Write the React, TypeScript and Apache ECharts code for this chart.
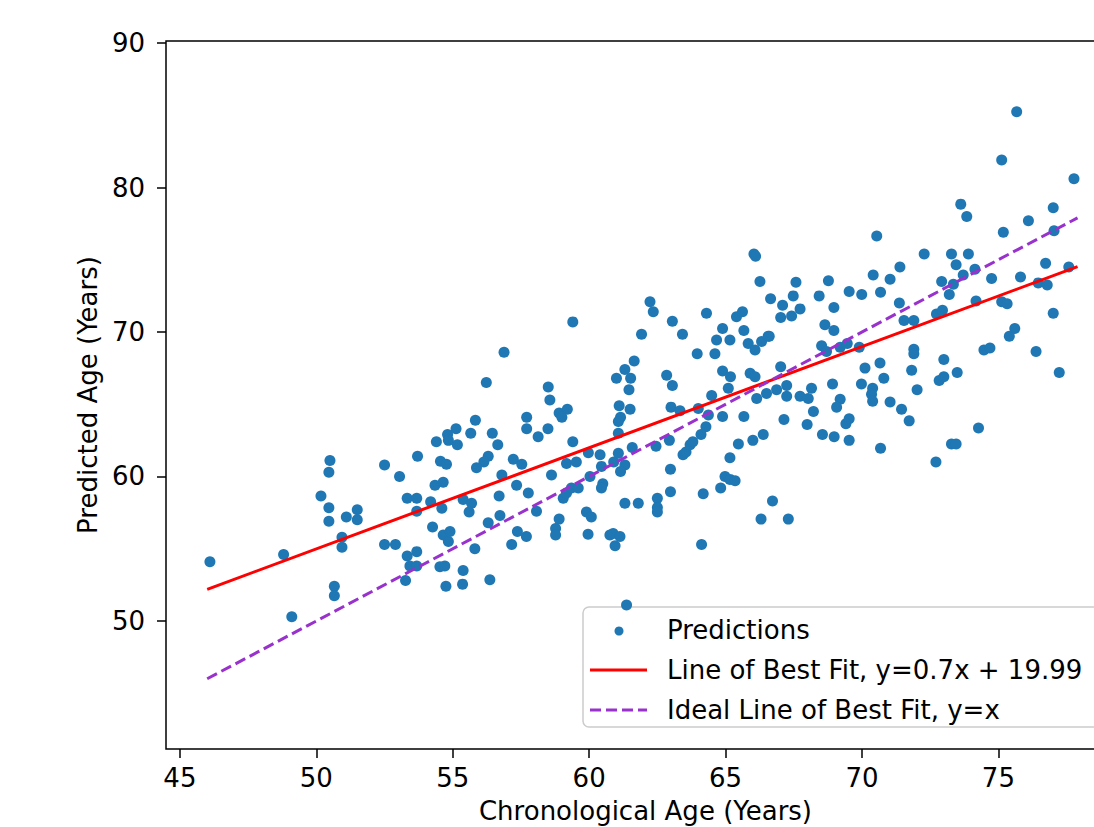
import React, { useEffect, useRef } from "react";
import * as echarts from "echarts";

// Chronological age (x) vs predicted age (y) for each subject
const predictions: [number, number][] = [
  [46.1, 54.1], [48.8, 54.6], [49.1, 50.3], [50.5, 61.1], [50.46, 60.3], [50.17, 58.65], [50.46, 57.84],
  [50.46, 56.9], [51.1, 57.2], [51.5, 57.7], [51.5, 57.0], [50.94, 55.8], [50.94, 55.1], [50.66, 52.4],
  [50.66, 51.75], [52.5, 60.8], [53.05, 60.0], [53.33, 58.5], [53.68, 58.5], [53.68, 57.6], [52.5, 55.3],
  [52.9, 55.3], [53.33, 54.5], [53.68, 54.8], [53.43, 53.8], [53.68, 53.8], [53.27, 52.8], [53.71, 61.4],
  [59.4, 70.7], [56.88, 68.6], [56.23, 66.5], [58.5, 66.2], [58.56, 65.3], [58.9, 64.4], [59.2, 64.65],
  [59.0, 64.1], [57.71, 64.1], [57.71, 63.3], [58.49, 63.3], [58.13, 62.75], [59.4, 62.4], [55.83, 63.9],
  [55.12, 63.3], [55.66, 63.0], [56.45, 63.0], [56.65, 62.2], [54.81, 62.9], [54.84, 62.5], [55.17, 62.2],
  [54.4, 62.4], [54.55, 61.05], [54.77, 60.85], [56.3, 61.4], [56.14, 61.0], [55.87, 60.6], [57.22, 61.2],
  [57.53, 60.85], [60.4, 61.5], [59.97, 61.65], [59.17, 60.9], [59.53, 61.0],
  [54.35, 59.4], [54.65, 59.6], [54.19, 58.25], [54.6, 57.8], [55.38, 58.4], [55.69, 58.15], [55.6, 57.55],
  [56.7, 58.65], [57.34, 59.4], [56.8, 60.1], [57.77, 58.85], [58.07, 57.6], [58.62, 60.1], [56.73, 57.3],
  [56.3, 56.8], [54.26, 56.5], [54.65, 55.95], [54.9, 56.2], [54.84, 55.5], [54.53, 53.75], [54.71, 53.8],
  [55.38, 53.5], [55.81, 55.0], [55.36, 52.55], [54.75, 52.4], [56.36, 52.85], [57.16, 55.3], [57.37, 56.2],
  [57.7, 55.85], [58.77, 56.4], [58.77, 55.95], [58.9, 57.05], [59.9, 57.55], [60.08, 57.2], [59.96, 56.0],
  [60.76, 55.95], [59.05, 58.5], [59.17, 58.85], [59.35, 59.2], [59.6, 59.2], [60.03, 60.0], [60.5, 59.5],
  [60.45, 60.7], [60.45, 59.2],
  [62.23, 72.1], [62.35, 71.4], [61.92, 69.85], [63.05, 70.75], [63.42, 69.85], [64.3, 71.3], [65.4, 71.05],
  [65.62, 71.4], [66.26, 73.5], [66.65, 72.3], [64.67, 69.45], [64.89, 70.25], [65.16, 69.45], [65.67, 70.1],
  [65.83, 69.2], [66.08, 68.75], [66.32, 69.35], [66.56, 69.7], [63.96, 68.5], [64.61, 68.5], [61.65, 68.0],
  [61.31, 67.4], [61.0, 66.8], [61.52, 66.8], [61.46, 66.0], [62.84, 67.0], [63.05, 66.3], [64.89, 67.3],
  [65.18, 66.9], [65.9, 67.15], [66.08, 66.9], [65.1, 66.1], [64.49, 65.6], [66.14, 65.4], [66.5, 65.75],
  [66.87, 66.0], [61.1, 64.9], [61.5, 64.65], [61.15, 64.1], [61.07, 63.8], [63.0, 64.8], [63.33, 64.55],
  [64.0, 64.7], [64.37, 64.25], [64.89, 64.15], [65.67, 64.15], [64.28, 63.45],
  [61.07, 63.0], [60.9, 61.0], [61.07, 61.6], [61.31, 60.8], [61.15, 60.35], [61.58, 62.0], [62.45, 62.1],
  [62.94, 62.5], [62.98, 60.5], [62.98, 58.95], [63.44, 61.5], [63.55, 61.7], [63.7, 62.2], [63.8, 62.4],
  [64.1, 62.9], [66.0, 62.5], [66.38, 62.9], [65.47, 62.25], [65.16, 61.3], [64.98, 60.0], [65.16, 59.8],
  [65.35, 59.7], [64.82, 59.2], [64.18, 58.8], [61.31, 58.15], [61.8, 58.15], [62.5, 58.5], [62.5, 57.85],
  [62.5, 57.55], [66.72, 58.3], [66.3, 57.05], [60.88, 56.05], [61.13, 55.85], [60.95, 55.2], [64.12, 55.3],
  [61.37, 51.1], [66.04, 75.4], [66.1, 75.25],
  [70.54, 76.65], [67.58, 73.45], [68.77, 73.55], [67.09, 71.85], [67.48, 72.5], [67.73, 71.6], [67.42, 71.1],
  [67.02, 71.0], [68.43, 72.5], [68.97, 71.7], [69.53, 72.8], [69.99, 72.6], [70.41, 73.95], [70.68, 72.75],
  [71.03, 73.65], [71.39, 74.5], [71.37, 72.0], [71.54, 70.8], [71.9, 70.8], [68.64, 70.5], [68.97, 70.1],
  [66.6, 69.7], [68.52, 69.05], [68.7, 68.65], [69.2, 68.95], [69.46, 69.2], [69.9, 68.95], [71.9, 68.8],
  [71.9, 68.5], [70.66, 67.85], [70.11, 67.5], [71.82, 67.35], [67.02, 67.6], [70.8, 66.8],
  [67.24, 66.3], [67.24, 65.55], [67.73, 65.55], [68.03, 65.4], [68.15, 66.1], [68.92, 66.4], [69.98, 66.4],
  [70.39, 66.1], [70.35, 65.7], [70.39, 65.2], [71.03, 65.15], [71.45, 64.65], [71.73, 63.85], [72.02, 66.0],
  [69.2, 65.35], [69.07, 64.8], [68.22, 64.5], [69.53, 64.0], [69.41, 63.65], [67.14, 63.95], [67.99, 63.6],
  [68.55, 62.9], [68.98, 62.75], [69.53, 62.5], [70.68, 61.95], [67.3, 57.05],
  [75.67, 85.25], [75.12, 81.9], [77.77, 80.6], [73.62, 78.85], [73.84, 78.0], [77.01, 78.6], [76.1, 77.7],
  [75.18, 76.9], [77.04, 77.0], [72.28, 75.4], [73.28, 75.4], [73.9, 75.4], [73.45, 74.65], [74.14, 74.35],
  [73.71, 73.95], [72.92, 73.5], [73.35, 73.3], [74.75, 73.7], [75.81, 73.8], [76.73, 74.75], [77.58, 74.5],
  [76.46, 73.4], [76.79, 73.25],
  [73.2, 72.6], [74.18, 72.15], [75.12, 72.1], [75.32, 71.95], [77.01, 71.3], [72.73, 71.25], [72.95, 71.5],
  [73.0, 68.1], [73.49, 67.2], [72.83, 66.65], [73.0, 66.9], [75.6, 70.25], [75.4, 69.7], [74.47, 68.75],
  [74.69, 68.9], [76.38, 68.65], [77.23, 67.2], [74.27, 63.35], [73.28, 62.25], [73.45, 62.25], [72.71, 61.0],
];

const bestFitX = [46.0, 77.9];
const bestFitY = [52.19, 74.52];
const idealX = [46.0, 77.9];
const idealY = [46.0, 77.9];

const xTicks = [45, 50, 55, 60, 65, 70, 75];
const yTicks = [50, 60, 70, 80, 90];
const xRange = [44.49, 79.64];
const yRange = [41.14, 90.14];

const seriesNames = [
  "Predictions",
  "Line of Best Fit, y=0.7x + 19.99",
  "Ideal Line of Best Fit, y=x",
];
const xTitle = "Chronological Age (Years)";
const yTitle = "Predicted Age (Years)";

const FONT = "DejaVu Sans";
const FS = 26;
const BLUE = "#1f77b4";
const RED = "#ff0000";
const PURPLE = "#9932cc";

export default function App() {
  const ref = useRef<HTMLDivElement>(null);

  useEffect(() => {
    if (!ref.current) return;
    const chart = echarts.init(ref.current, null, { renderer: "svg" });

    const legendX = 583;
    const legendY = 607;
    const rowY = [630, 670, 710];

    chart.setOption({
      animation: false,
      backgroundColor: "#ffffff",
      grid: {
        show: true,
        left: 166,
        top: 41,
        width: 959,
        height: 708,
        borderColor: "#000",
        borderWidth: 1.5,
        backgroundColor: "transparent",
        containLabel: false,
        outerBoundsMode: "none",
      },
      xAxis: {
        type: "value",
        min: xRange[0],
        max: xRange[1],
        name: xTitle,
        nameLocation: "middle",
        nameGap: 49,
        nameTextStyle: { fontSize: FS, fontFamily: FONT, color: "#000" },
        axisLine: { show: false },
        axisTick: {
          show: true,
          customValues: xTicks,
          length: 9,
          lineStyle: { color: "#000", width: 1.5 },
        },
        axisLabel: {
          customValues: xTicks,
          fontSize: FS,
          fontFamily: FONT,
          color: "#000",
          margin: 16,
        },
        splitLine: { show: false },
      },
      yAxis: {
        type: "value",
        min: yRange[0],
        max: yRange[1],
        name: yTitle,
        nameLocation: "middle",
        nameGap: 64,
        nameTextStyle: { fontSize: FS, fontFamily: FONT, color: "#000" },
        axisLine: { show: false },
        axisTick: {
          show: true,
          customValues: yTicks,
          length: 9,
          lineStyle: { color: "#000", width: 1.5 },
        },
        axisLabel: {
          customValues: yTicks,
          fontSize: FS,
          fontFamily: FONT,
          color: "#000",
          margin: 21,
        },
        splitLine: { show: false },
      },
      series: [
        {
          name: seriesNames[0],
          type: "scatter",
          data: predictions,
          symbol: "circle",
          symbolSize: 11,
          itemStyle: { color: BLUE, opacity: 1 },
          z: 2,
        },
        {
          name: seriesNames[1],
          type: "line",
          data: bestFitX.map((x, i) => [x, bestFitY[i]]),
          showSymbol: false,
          lineStyle: { color: RED, width: 3 },
          z: 3,
        },
        {
          name: seriesNames[2],
          type: "line",
          data: idealX.map((x, i) => [x, idealY[i]]),
          showSymbol: false,
          lineStyle: { color: PURPLE, width: 3, type: [11, 5] },
          z: 4,
        },
      ],
      graphic: [
        {
          type: "group",
          z: 100,
          children: [
            {
              type: "rect",
              shape: { x: legendX, y: legendY, width: 560, height: 120, r: 6 },
              style: { fill: "rgba(255,255,255,0.8)", stroke: "#cccccc", lineWidth: 1.5 },
            },
            {
              type: "circle",
              shape: { cx: 619, cy: rowY[0] + 1, r: 4.5 },
              style: { fill: BLUE },
            },
            {
              type: "line",
              shape: { x1: 590, y1: rowY[1], x2: 647, y2: rowY[1] },
              style: { stroke: RED, lineWidth: 3 },
            },
            {
              type: "line",
              shape: { x1: 590, y1: rowY[2], x2: 647, y2: rowY[2] },
              style: { stroke: PURPLE, lineWidth: 3, lineDash: [11, 5] },
            },
            ...seriesNames.map((t, i) => ({
              type: "text",
              x: 667,
              y: rowY[i],
              style: {
                text: t,
                fontSize: FS,
                fontFamily: FONT,
                fill: "#000",
                align: "left",
                verticalAlign: "middle",
              },
            })),
          ],
        },
      ],
    });

    return () => chart.dispose();
  }, []);

  return (
    <div
      ref={ref}
      style={{ position: "absolute", left: 0, top: 0, width: 1094, height: 827, background: "#fff" }}
    />
  );
}
